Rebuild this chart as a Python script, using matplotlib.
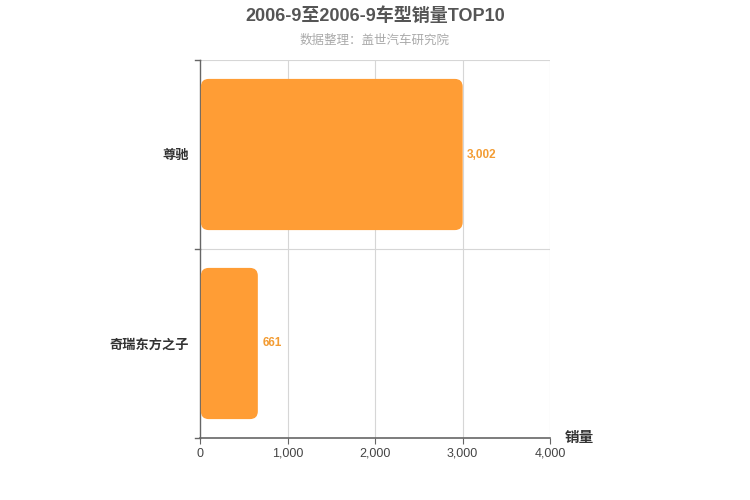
import matplotlib
matplotlib.use('Agg')
import matplotlib.pyplot as plt
from matplotlib.patches import FancyBboxPatch

plt.rcParams['font.family'] = ['Liberation Sans', 'Noto Sans CJK SC', 'DejaVu Sans']

models = ['奇瑞东方之子', '尊驰']
sales = [661, 3002]
xticks = [0, 1000, 2000, 3000, 4000]
xlabels = ['0', '1,000', '2,000', '3,000', '4,000']

fig = plt.figure(figsize=(7.5, 5), dpi=100)
ax = fig.add_axes([200 / 750, 1 - 438 / 500, 350 / 750, 378 / 500])
ax.set_xlim(0, 4000)
ax.set_ylim(-0.5, 1.5)

# rounded bars, radius given in x units, aspect fixes y
aspect = (2 / 378) / (4000 / 350)
for i, v in enumerate(sales):
    h = 0.8
    p = FancyBboxPatch((10, i - h / 2), v - 10, h,
                       boxstyle='round,pad=0,rounding_size=90',
                       mutation_aspect=aspect,
                       fc='#ff9d35', ec='none', zorder=3)
    ax.add_patch(p)
    ax.text(v + 50, i, f'{v:,}', va='center', ha='left',
            color='#f39c33', fontsize=8.5, fontweight='bold')

ax.set_xticks(xticks)
ax.set_xticklabels(xlabels, fontsize=9, color='#444444')
ax.set_yticks([0, 1])
ax.set_yticklabels(models, fontsize=9.5, fontweight='bold', color='#333333')
ax.tick_params(axis='y', length=0, pad=8)
ax.tick_params(axis='x', length=4, color='#666666', pad=3)

# grid
for x in xticks[1:]:
    ax.axvline(x, color='#d6d6d6', lw=0.8, zorder=1)
ax.axhline(0.5, color='#d6d6d6', lw=0.8, zorder=1)
ax.axhline(1.5, color='#d6d6d6', lw=0.8, zorder=1)
# left axis ticks at band edges
for y in [-0.5, 0.5, 1.5]:
    ax.plot([-20 * 4000 / 350 / 4, 0], [y, y], color='#666666', lw=1,
            clip_on=False, zorder=4)

for s in ['top', 'right']:
    ax.spines[s].set_visible(False)
ax.spines['left'].set_color('#666666')
ax.spines['bottom'].set_color('#666666')
ax.spines['left'].set_linewidth(1)
ax.spines['bottom'].set_linewidth(1.2)

fig.text(565 / 750, 1 - 438 / 500, '销量', fontsize=10.5, fontweight='bold',
         color='#333333', ha='left', va='center')
fig.text(0.5, 1 - 16 / 500, '2006-9至2006-9车型销量TOP10', fontsize=13,
         fontweight='bold', color='#555555', ha='center', va='center')
fig.text(0.5, 1 - 41 / 500, '数据整理：盖世汽车研究院', fontsize=9,
         color='#aaaaaa', ha='center', va='center')

fig.savefig('out.png', dpi=100)
